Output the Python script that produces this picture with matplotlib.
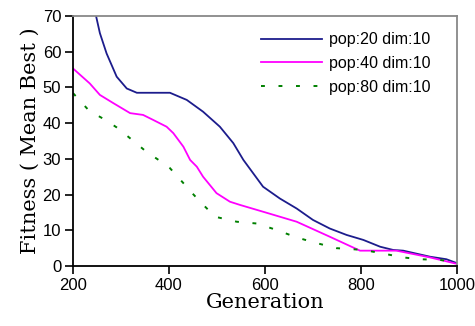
import matplotlib.pyplot as plt

# Data
gen_20 = [248, 256, 270, 291, 312, 333, 402, 437, 471, 506, 534, 555, 596, 631,
          666, 700, 735, 770, 805, 840, 867, 888, 944, 978, 1000]
fit_20 = [70, 65.2, 59.5, 53, 49.7, 48.5, 48.5, 46.5, 43.2, 39, 34.4, 29.7, 22.2,
          18.9, 16.1, 12.9, 10.5, 8.7, 7.3, 5.4, 4.5, 4.3, 2.6, 1.9, 0.8]

gen_40 = [200, 215, 235, 256, 284, 319, 346, 367, 395, 409, 430, 444, 458, 471,
          499, 527, 548, 596, 666, 735, 798, 874, 944, 1000]
fit_40 = [55.3, 53.5, 51.1, 47.9, 45.6, 42.8, 42.3, 40.9, 39, 37.2, 33.4, 29.7,
          27.8, 25, 20.4, 18, 17.1, 15.2, 12.4, 8.2, 4.3, 4.3, 2.4, 0.6]

gen_80 = [200, 232, 249, 270, 291, 315, 351, 388, 402, 430, 447, 465, 496, 541,
          583, 624, 666, 708, 749, 805, 846, 888, 923, 965, 992]
fit_80 = [48.4, 43.7, 42.3, 40.7, 38.8, 36.2, 32.2, 28.8, 27.4, 23.2, 20.6, 18,
          13.8, 12.4, 11.9, 10.1, 8.0, 6.4, 5.0, 4.5, 3.5, 2.4, 1.9, 1.7, 1.2]

labels = ['pop:20 dim:10', 'pop:40 dim:10', 'pop:80 dim:10']
x_ticks = [200, 400, 600, 800, 1000]
y_ticks = [0, 10, 20, 30, 40, 50, 60, 70]

fig = plt.figure(figsize=(4.75, 3.26), dpi=100)
ax = fig.add_axes([0.1537, 0.184, 0.8083, 0.767])

ax.plot(gen_20, fit_20, color='#1c1c8c', linewidth=1.3, label=labels[0])
ax.plot(gen_40, fit_40, color='#ff00ff', linewidth=1.3, label=labels[1])
ax.plot(gen_80, fit_80, color='#008000', linewidth=1.4, linestyle=(0, (2, 7)),
        label=labels[2])

ax.set_xlim(200, 1000)
ax.set_ylim(0, 70)
ax.set_xticks(x_ticks)
ax.set_yticks(y_ticks)
ax.tick_params(direction='out', length=5.5, width=1.2, labelsize=12, pad=3)
for lab in ax.get_xticklabels() + ax.get_yticklabels():
    lab.set_family('Liberation Sans')

for side in ['left', 'bottom']:
    ax.spines[side].set_color('black')
    ax.spines[side].set_linewidth(1.3)
for side in ['top', 'right']:
    ax.spines[side].set_color('#888888')
    ax.spines[side].set_linewidth(1.3)

ax.set_xlabel('Generation', family='DejaVu Serif', fontsize=15, labelpad=0)
ax.set_ylabel('Fitness ( Mean Best )', family='DejaVu Serif', fontsize=15, labelpad=2)

ax.legend(loc='upper left', bbox_to_anchor=(0.49, 0.935), frameon=False,
          prop={'family': 'Liberation Sans', 'size': 11.5},
          handlelength=3.8, handletextpad=0.45, labelspacing=0.55,
          borderpad=0, borderaxespad=0)

fig.savefig('out.png', dpi=100)
